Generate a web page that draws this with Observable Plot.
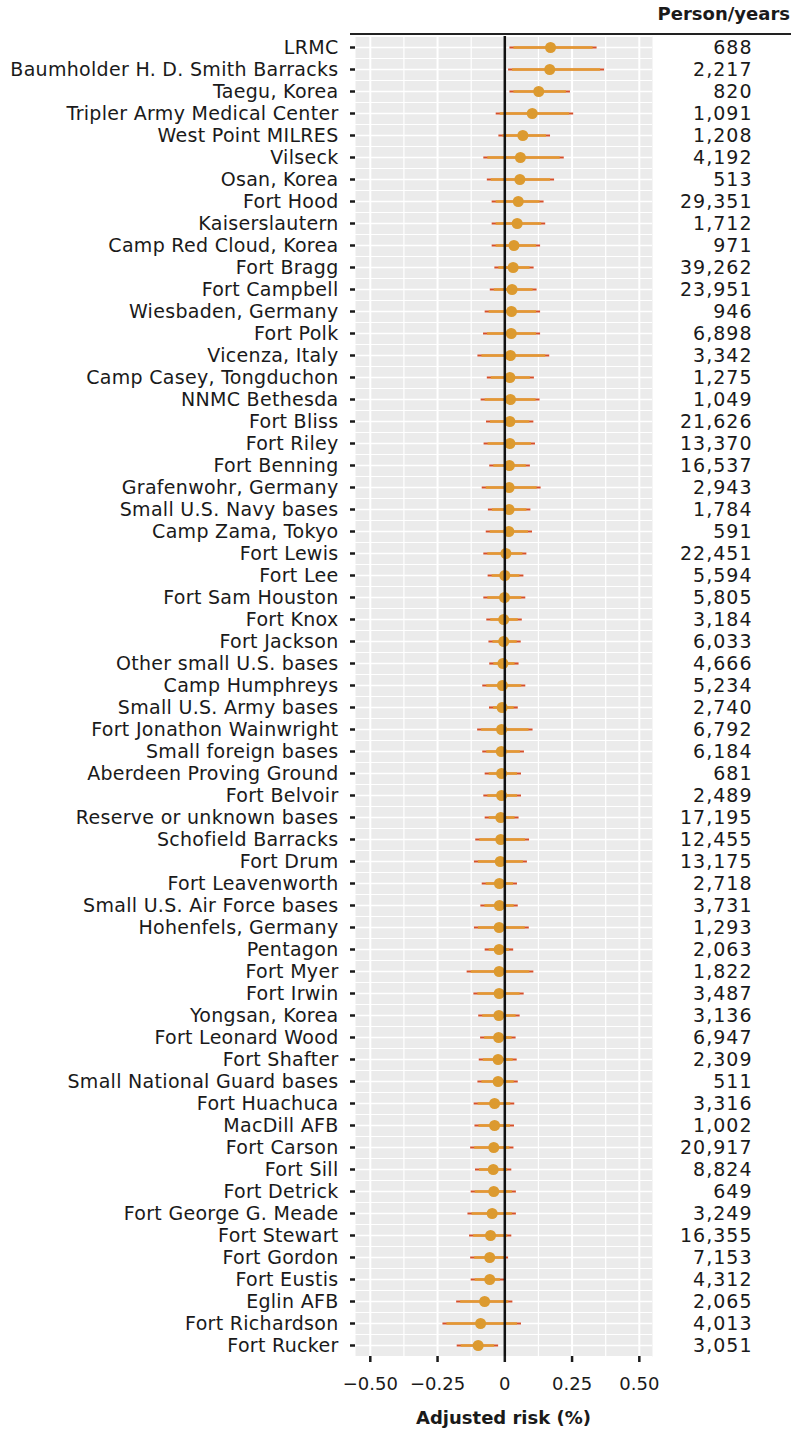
<!DOCTYPE html>
<html>
<head>
<meta charset="utf-8">
<script src="https://cdn.jsdelivr.net/npm/d3@7"></script>
<script src="https://cdn.jsdelivr.net/npm/@observablehq/plot@0.6"></script>
<style>
  body { margin: 0; background: #fff; font-family: "DejaVu Sans", sans-serif; color: #1a1a1a; }
  #wrap { position: relative; width: 791px; }
  #header { position: relative; height: 36px; }
  #rule { position: absolute; left: 350px; right: 0; top: 33px; border-top: 2px solid #222; }
  #py { position: absolute; right: 1px; top: 3px; font-weight: bold; font-size: 18px; }
  #xlabel { position: relative; width: 1007px; text-align: center; font-weight: bold; font-size: 18px; margin-top: 1px; }
  #chart g[aria-label="y-axis tick label"] { letter-spacing: 0.3px; }
  #chart g[aria-label="text"] { letter-spacing: 1px; }
</style>
</head>
<body>
<div id="wrap">
  <div id="header"><div id="rule"></div><div id="py">Person/years</div></div>
  <div id="chart"></div>
  <div id="xlabel">Adjusted risk (%)</div>
</div>
<script>
const names = [
  "LRMC", "Baumholder H. D. Smith Barracks", "Taegu, Korea", "Tripler Army Medical Center",
  "West Point MILRES", "Vilseck", "Osan, Korea", "Fort Hood", "Kaiserslautern",
  "Camp Red Cloud, Korea", "Fort Bragg", "Fort Campbell", "Wiesbaden, Germany", "Fort Polk",
  "Vicenza, Italy", "Camp Casey, Tongduchon", "NNMC Bethesda", "Fort Bliss", "Fort Riley",
  "Fort Benning", "Grafenwohr, Germany", "Small U.S. Navy bases", "Camp Zama, Tokyo",
  "Fort Lewis", "Fort Lee", "Fort Sam Houston", "Fort Knox", "Fort Jackson",
  "Other small U.S. bases", "Camp Humphreys", "Small U.S. Army bases",
  "Fort Jonathon Wainwright", "Small foreign bases", "Aberdeen Proving Ground",
  "Fort Belvoir", "Reserve or unknown bases", "Schofield Barracks", "Fort Drum",
  "Fort Leavenworth", "Small U.S. Air Force bases", "Hohenfels, Germany", "Pentagon",
  "Fort Myer", "Fort Irwin", "Yongsan, Korea", "Fort Leonard Wood", "Fort Shafter",
  "Small National Guard bases", "Fort Huachuca", "MacDill AFB", "Fort Carson", "Fort Sill",
  "Fort Detrick", "Fort George G. Meade", "Fort Stewart", "Fort Gordon", "Fort Eustis",
  "Eglin AFB", "Fort Richardson", "Fort Rucker"
];
const estimate = [
  0.170, 0.167, 0.126, 0.102, 0.067, 0.058, 0.056, 0.050, 0.046, 0.034,
  0.031, 0.027, 0.025, 0.024, 0.021, 0.019, 0.021, 0.019, 0.019, 0.017,
  0.016, 0.016, 0.015, 0.004, 0.000, -0.001, -0.004, -0.004, -0.007, -0.009,
  -0.010, -0.012, -0.013, -0.012, -0.012, -0.015, -0.015, -0.017, -0.020, -0.020,
  -0.021, -0.021, -0.021, -0.021, -0.022, -0.023, -0.025, -0.025, -0.038, -0.038,
  -0.041, -0.043, -0.041, -0.047, -0.053, -0.056, -0.056, -0.075, -0.090, -0.099
];
const lower = [
  0.019, 0.014, 0.019, -0.032, -0.022, -0.078, -0.065, -0.047, -0.047, -0.047,
  -0.037, -0.054, -0.073, -0.079, -0.100, -0.065, -0.088, -0.068, -0.077, -0.056,
  -0.084, -0.061, -0.069, -0.078, -0.062, -0.078, -0.067, -0.059, -0.056, -0.082,
  -0.057, -0.101, -0.082, -0.073, -0.078, -0.073, -0.108, -0.113, -0.084, -0.089,
  -0.113, -0.073, -0.140, -0.115, -0.097, -0.090, -0.095, -0.100, -0.114, -0.111,
  -0.127, -0.109, -0.125, -0.137, -0.131, -0.127, -0.125, -0.179, -0.230, -0.177
];
const upper = [
  0.343, 0.371, 0.244, 0.256, 0.170, 0.221, 0.185, 0.146, 0.152, 0.133,
  0.109, 0.120, 0.133, 0.133, 0.167, 0.110, 0.131, 0.108, 0.114, 0.095,
  0.135, 0.097, 0.103, 0.082, 0.071, 0.078, 0.065, 0.061, 0.053, 0.078,
  0.050, 0.105, 0.073, 0.062, 0.062, 0.053, 0.092, 0.084, 0.047, 0.050,
  0.091, 0.033, 0.108, 0.072, 0.057, 0.042, 0.046, 0.050, 0.037, 0.036,
  0.034, 0.026, 0.043, 0.043, 0.026, 0.014, -0.001, 0.030, 0.062, -0.023
];
const personYears = [
  688, 2217, 820, 1091, 1208, 4192, 513, 29351, 1712, 971,
  39262, 23951, 946, 6898, 3342, 1275, 1049, 21626, 13370, 16537,
  2943, 1784, 591, 22451, 5594, 5805, 3184, 6033, 4666, 5234,
  2740, 6792, 6184, 681, 2489, 17195, 12455, 13175, 2718, 3731,
  1293, 2063, 1822, 3487, 3136, 6947, 2309, 511, 3316, 1002,
  20917, 8824, 649, 3249, 16355, 7153, 4312, 2065, 4013, 3051
];
const xMajor = [-0.5, -0.25, 0, 0.25, 0.5];
const xMinor = [-0.375, -0.125, 0.125, 0.375];

const data = names.map((n, i) => ({name: n, est: estimate[i], lo: lower[i], hi: upper[i], py: personYears[i]}));
const fmt = d3.format(",");

const chart = Plot.plot({
  width: 791,
  height: 1370,
  marginLeft: 355,
  marginRight: 139,
  marginTop: 0,
  marginBottom: 50,
  style: {fontFamily: "'DejaVu Sans', sans-serif", fontSize: "18px", color: "#1a1a1a", background: "transparent"},
  x: {domain: [-0.555, 0.549], ticks: xMajor, label: null},
  y: {type: "point", domain: names, padding: 0.5, label: null},
  marks: [
    Plot.frame({fill: "#ebebeb", stroke: null}),
    Plot.ruleX(xMinor, {stroke: "#fff", strokeWidth: 1.2}),
    Plot.ruleX(xMajor, {stroke: "#fff", strokeWidth: 2}),
    Plot.ruleY(names, {stroke: "#fff", strokeWidth: 1.6}),
    Plot.ruleY(names, {stroke: "#fff", strokeWidth: 1.2, dy: 11}),
    Plot.ruleY(names.slice(0, 1), {stroke: "#fff", strokeWidth: 1.2, dy: -11}),
    Plot.ruleY(data, {y: "name", x1: "lo", x2: "hi", stroke: "#d8512b", strokeWidth: 2.2}),
    Plot.ruleY(data, {y: "name", x1: "lo", x2: "hi", stroke: "#e39a32", strokeWidth: 2.6, insetLeft: 4, insetRight: 4}),
    Plot.dot(data, {x: "est", y: "name", r: 5.5, fill: "#dc9a2f", stroke: null}),
    Plot.ruleX([0], {stroke: "#111", strokeWidth: 2.5}),
    Plot.axisY({tickSize: 5, tickPadding: 12, fontSize: 19, strokeWidth: 2.5, label: null}),
    Plot.axisX({ticks: xMajor, tickSize: 6, tickPadding: 15, fontSize: 18, strokeWidth: 2.5, label: null,
      tickFormat: d => d === 0 ? "0" : d3.format(".2f")(d)}),
    Plot.text(data, {y: "name", text: d => fmt(d.py), frameAnchor: "right", dx: 100, textAnchor: "end", fontSize: 19, fill: "#1a1a1a"})
  ]
});
document.getElementById("chart").appendChild(chart);
</script>
</body>
</html>
